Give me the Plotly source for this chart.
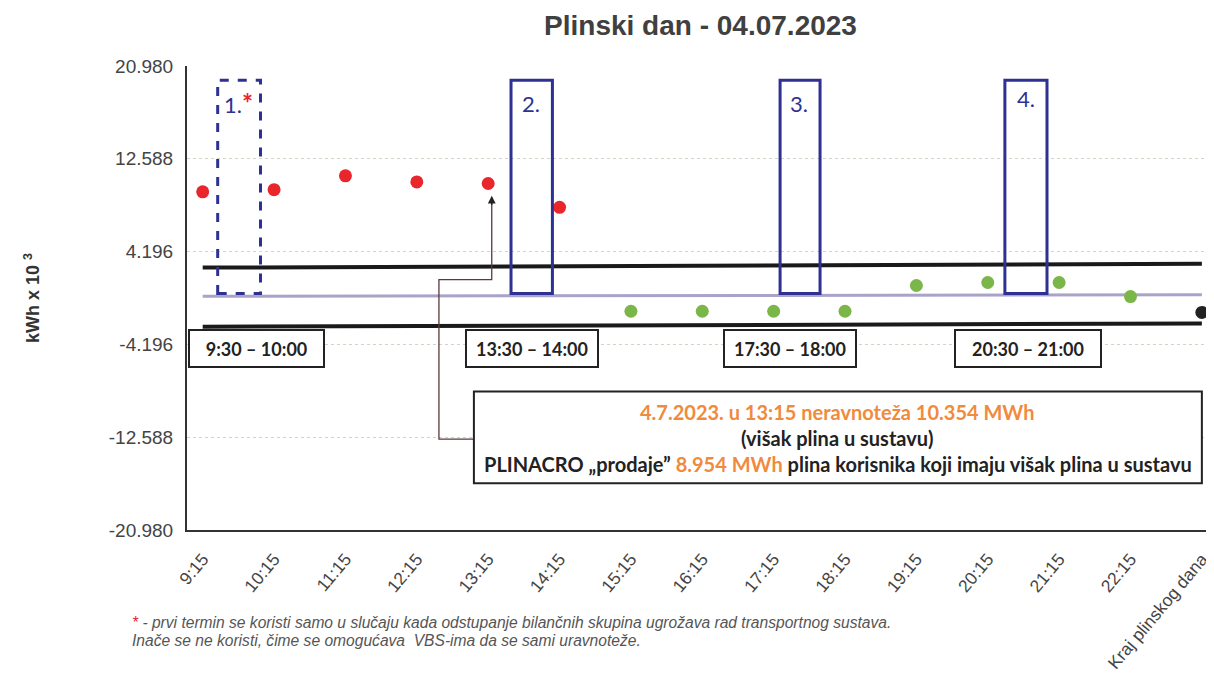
import plotly.graph_objects as go

categories = ["9:15", "10:15", "11:15", "12:15", "13:15", "14:15", "15:15", "16:15",
              "17:15", "18:15", "19:15", "20:15", "21:15", "22:15", "Kraj plinskog dana"]
red_vals = [9.6, 9.8, 11.05, 10.5, 10.354, 8.2]
green_vals = [-1.2, -1.2, -1.2, -1.2, 1.13, 1.4, 1.4, 0.13]
end_val = [-1.3]
upper_limit = [2.75, 3.1]
lower_limit = [-2.6, -2.3]
balance_line = [0.15, 0.3]
ytick_vals = [-20.98, -12.588, -4.196, 4.196, 12.588, 20.98]
ytick_text = ["-20.980", "-12.588", "-4.196", "4.196", "12.588", "20.980"]

fig = go.Figure()
ends = [categories[0], categories[-1]]
fig.add_trace(go.Scatter(x=ends, y=upper_limit, mode="lines", line=dict(color="#1a1a1a", width=4), showlegend=False))
fig.add_trace(go.Scatter(x=ends, y=lower_limit, mode="lines", line=dict(color="#1a1a1a", width=4), showlegend=False))
fig.add_trace(go.Scatter(x=ends, y=balance_line, mode="lines", line=dict(color="#a9a3c9", width=3), showlegend=False))
fig.add_trace(go.Scatter(x=categories[:6], y=red_vals, mode="markers",
                         marker=dict(color="#e8262b", size=13), showlegend=False))
fig.add_trace(go.Scatter(x=categories[6:14], y=green_vals, mode="markers",
                         marker=dict(color="#7ab648", size=13), showlegend=False))
fig.add_trace(go.Scatter(x=categories[14:], y=end_val, mode="markers",
                         marker=dict(color="#222222", size=13), showlegend=False))

blue = "#2e3192"
# slot boxes
slots = [(0.21, 0.81, "dash"), (4.32, 4.9, "solid"), (8.09, 8.65, "solid"), (11.24, 11.83, "solid")]
for x0, x1, dash in slots:
    fig.add_shape(type="rect", xref="x", yref="y", x0=x0, x1=x1, y0=0.4, y1=19.7,
                  line=dict(color=blue, width=3, dash=dash))
slot_labels = [(0.5, "1.<span style='color:#e8262b;font-size:26px'><b>*</b></span>"), (4.6, "2."), (8.36, "3."), (11.54, "4.")]
for i, (x, t) in enumerate(slot_labels):
    fig.add_annotation(x=x, y=17.6 if i < 3 else 18.0, xref="x", yref="y", text=t, showarrow=False,
                       font=dict(family="Lato", size=22, color=blue))

# time boxes
times = [(0.75, "9:30 – 10:00"), (4.62, "13:30 – 14:00"), (8.23, "17:30 – 18:00"), (11.57, "20:30 – 21:00")]
widths = [131, 128, 128, 142]
for (x, t), w in zip(times, widths):
    fig.add_annotation(x=x, y=-4.55, xref="x", yref="y", text=t, showarrow=False,
                       font=dict(family="Lato", size=18, color="#222222", weight="bold"),
                       bordercolor="#222222", borderwidth=2, bgcolor="white", width=w, height=33)

# arrow path from info box to 13:15 point
fig.add_shape(type="path", xref="x", yref="y",
              path="M 3.8 -12.77 L 3.31 -12.77 L 3.31 1.67 L 4.05 1.67 L 4.05 8.9",
              line=dict(color="#5a3a3a", width=1.3))
fig.add_annotation(x=4.05, y=9.25, ax=4.05, ay=7.5, xref="x", yref="y", axref="x", ayref="y",
                   text=" ", showarrow=True, arrowhead=2, arrowsize=1.2, arrowwidth=1.3, arrowcolor="#222222")

# info box
fig.add_shape(type="rect", xref="x", yref="y", x0=3.8, x1=14.0, y0=-16.75, y1=-8.45,
              line=dict(color="#222222", width=2), fillcolor="white")
orange = "#f08a3c"
info = [(-10.3, f"<span style='color:{orange}'>4.7.2023. u 13:15 neravnoteža 10.354 MWh</span>"),
        (-12.65, "(višak plina u sustavu)"),
        (-15.05, f"PLINACRO „prodaje” <span style='color:{orange}'>8.954 MWh</span> plina korisnika koji imaju višak plina u sustavu")]
for y, t in info:
    fig.add_annotation(x=8.9, y=y, xref="x", yref="y", text=t, showarrow=False,
                       font=dict(family="Lato", size=20, color="#222222", weight="bold"))

# footnote
foot = ["<span style='color:#e8262b'>*</span> - prvi termin se koristi samo u slučaju kada odstupanje bilančnih skupina ugrožava rad transportnog sustava.",
        "Inače se ne koristi, čime se omogućava  VBS-ima da se sami uravnoteže."]
for i, t in enumerate(foot):
    fig.add_annotation(x=(122 - 179) / 1027, y=(522 - 614 - 18 * i) / 464, xref="paper", yref="paper",
                       xanchor="left", yanchor="middle", text=f"<i>{t}</i>", showarrow=False,
                       font=dict(family="Liberation Sans", size=15.6, color="#555555"))

fig.update_layout(
    width=1206, height=686,
    margin=dict(l=179, r=0, t=58, b=164),
    paper_bgcolor="white", plot_bgcolor="white",
    title=dict(text="<b>Plinski dan - 04.07.2023</b>", x=0.5, xref="paper", y=0.975, yanchor="middle",
               font=dict(family="Liberation Sans", size=28, color="#404040")),
    xaxis=dict(type="category", categoryorder="array", categoryarray=categories,
               range=[-0.22, 14.17], tickangle=-50, showgrid=False,
               showline=True, linecolor="#333333", linewidth=2, ticks="", ticklabelstandoff=10,
               tickfont=dict(family="Liberation Sans", size=17.5, color="#444444")),
    yaxis=dict(range=[-20.98, 20.98], tickvals=ytick_vals, ticktext=ytick_text,
               showgrid=True, gridcolor="#d9d2c4", griddash="dot", gridwidth=1, zeroline=False,
               showline=True, linecolor="#333333", linewidth=2, ticks="", ticklabelstandoff=8,
               tickfont=dict(family="Liberation Sans", size=19, color="#444444"),
               title=dict(text="<b>kWh x 10 <sup>3</sup></b>", standoff=64,
                          font=dict(family="Liberation Sans", size=18, color="#333333"))),
)

fig.write_html("out.html")
